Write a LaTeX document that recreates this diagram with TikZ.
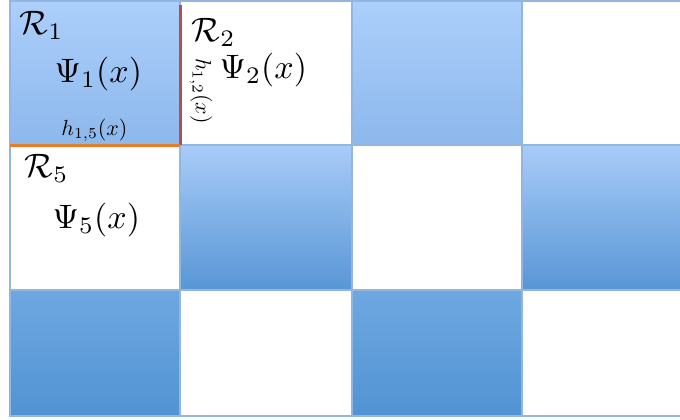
\documentclass[tikz,border=0pt]{standalone}
\usepackage{amsmath}
\definecolor{gridline}{HTML}{93B6E0}
\definecolor{aTop}{HTML}{ACCFFB}
\definecolor{aBot}{HTML}{8CB8EC}
\definecolor{bTop}{HTML}{A9CCF8}
\definecolor{bBot}{HTML}{5896D6}
\definecolor{cTop}{HTML}{6EA8E1}
\definecolor{cBot}{HTML}{5193D3}
\definecolor{redline}{HTML}{B2514A}
\definecolor{orangeline}{HTML}{E57D2B}
\tikzset{
  cellbox/.style={draw=gridline, line width=1.3bp},
  bigtxt/.style={inner sep=0pt, scale=3.4},
  smalltxt/.style={inner sep=0pt, scale=2.2},
}
\begin{document}
\begin{tikzpicture}[x=1bp,y=-1bp]
\useasboundingbox (0,0) rectangle (680,419);
\clip (0,0) rectangle (680,419);
% row 1
\shade[top color=aTop, bottom color=aBot] (10,1) rectangle (180,145);
\draw[cellbox] (10,1) rectangle (180,145);
\fill[white] (180,1) rectangle (352,145);
\draw[cellbox] (180,1) rectangle (352,145);
\shade[top color=aTop, bottom color=aBot] (352,1) rectangle (522,145);
\draw[cellbox] (352,1) rectangle (522,145);
\fill[white] (522,1) rectangle (700,145);
\draw[cellbox] (522,1) rectangle (700,145);
% row 2
\fill[white] (10,145) rectangle (180,290);
\draw[cellbox] (10,145) rectangle (180,290);
\shade[top color=bTop, bottom color=bBot] (180,145) rectangle (352,290);
\draw[cellbox] (180,145) rectangle (352,290);
\fill[white] (352,145) rectangle (522,290);
\draw[cellbox] (352,145) rectangle (522,290);
\shade[top color=bTop, bottom color=bBot] (522,145) rectangle (700,290);
\draw[cellbox] (522,145) rectangle (700,290);
% row 3
\shade[top color=cTop, bottom color=cBot] (10,290) rectangle (180,416);
\draw[cellbox] (10,290) rectangle (180,416);
\fill[white] (180,290) rectangle (352,416);
\draw[cellbox] (180,290) rectangle (352,416);
\shade[top color=cTop, bottom color=cBot] (352,290) rectangle (522,416);
\draw[cellbox] (352,290) rectangle (522,416);
\fill[white] (522,290) rectangle (700,416);
\draw[cellbox] (522,290) rectangle (700,416);
% boundary lines
\coordinate (rtop) at (180,5);
\coordinate (corner) at (180,145);
\coordinate (oleft) at (10,145);
\draw[redline, line width=3bp] (rtop) -- (corner);
\draw[orangeline, line width=3bp] (oleft) -- (corner);
% labels
\node[bigtxt, anchor=base west] (r1) at (19,34) {$\mathcal{R}_1$};
\node[bigtxt, anchor=base west] (p1) at (54,82) {$\Psi_1(x)$};
\node[smalltxt, anchor=base west] (h15) at (61,135) {$h_{1,5}(x)$};
\node[bigtxt, anchor=base west] (r2) at (191,41) {$\mathcal{R}_2$};
\node[bigtxt, anchor=base west] (p2) at (219,78) {$\Psi_2(x)$};
\node[smalltxt, rotate=-90] (h12) at (201,91) {$h_{1,2}(x)$};
\node[bigtxt, anchor=base west] (r5) at (24,177) {$\mathcal{R}_5$};
\node[bigtxt, anchor=base west] (p5) at (52,228) {$\Psi_5(x)$};
\end{tikzpicture}
\end{document}
